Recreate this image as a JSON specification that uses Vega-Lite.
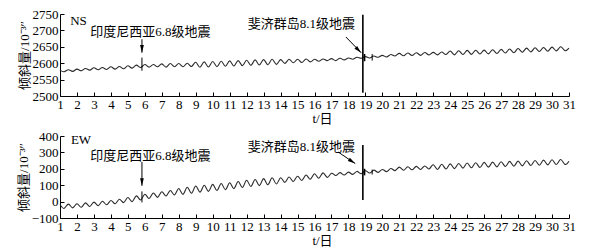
{
"$schema": "https://vega.github.io/schema/vega-lite/v6.json",
"padding": {"left": 17, "top": 8, "right": 5, "bottom": 4},
"spacing": 5,
"config": {
  "view": {"stroke": null},
  "font": "Liberation Serif, Noto Sans CJK SC",
  "axis": {"grid": false, "domainColor": "#000", "tickColor": "#000", "labelColor": "#000", "titleColor": "#000",
    "labelFont": "Liberation Serif", "labelFontSize": 13, "titleFont": "Liberation Serif, Noto Sans CJK SC", "titleFontSize": 13,
    "titleFontWeight": "normal", "tickSize": -4, "labelPadding": 6, "domainWidth": 1, "tickWidth": 1, "format": "d"}
},
"datasets": {
  "ns": [
{"d":1,"v":2579},{"d":1.25,"v":2574},{"d":1.5,"v":2580},{"d":1.75,"v":2575},
{"d":2,"v":2582},{"d":2.25,"v":2577},{"d":2.5,"v":2584},{"d":2.75,"v":2579},
{"d":3,"v":2586},{"d":3.25,"v":2580},{"d":3.5,"v":2587},{"d":3.75,"v":2581},
{"d":4,"v":2589},{"d":4.25,"v":2582},{"d":4.5,"v":2590},{"d":4.75,"v":2583},
{"d":5,"v":2592},{"d":5.25,"v":2585},{"d":5.5,"v":2594},{"d":5.75,"v":2587},
{"d":6,"v":2596},{"d":6.25,"v":2588},{"d":6.5,"v":2596},{"d":6.75,"v":2589},
{"d":7,"v":2598},{"d":7.25,"v":2588},{"d":7.5,"v":2599},{"d":7.75,"v":2589},
{"d":8,"v":2599},{"d":8.25,"v":2589},{"d":8.5,"v":2600},{"d":8.75,"v":2590},
{"d":9,"v":2603},{"d":9.25,"v":2587.5},{"d":9.5,"v":2604},{"d":9.75,"v":2588.5},
{"d":10,"v":2605},{"d":10.25,"v":2589.5},{"d":10.5,"v":2606},{"d":10.75,"v":2590.5},
{"d":11,"v":2607},{"d":11.25,"v":2591.5},{"d":11.5,"v":2608},{"d":11.75,"v":2592.5},
{"d":12,"v":2609},{"d":12.25,"v":2593.5},{"d":12.5,"v":2610},{"d":12.75,"v":2594.5},
{"d":13,"v":2611},{"d":13.25,"v":2595.5},{"d":13.5,"v":2612},{"d":13.75,"v":2596.5},
{"d":14,"v":2611},{"d":14.25,"v":2599.5},{"d":14.5,"v":2612},{"d":14.75,"v":2601.5},
{"d":15,"v":2612},{"d":15.25,"v":2602},{"d":15.5,"v":2613},{"d":15.75,"v":2604},
{"d":16,"v":2612},{"d":16.25,"v":2606},{"d":16.5,"v":2613},{"d":16.75,"v":2608},
{"d":17,"v":2614},{"d":17.25,"v":2608},{"d":17.5,"v":2615},{"d":17.75,"v":2610},
{"d":18,"v":2616},{"d":18.25,"v":2612},{"d":18.5,"v":2618},{"d":18.75,"v":2615},
{"d":19,"v":2620},{"d":19.25,"v":2616},{"d":19.5,"v":2622},{"d":19.75,"v":2618},
{"d":20,"v":2624},{"d":20.25,"v":2619},{"d":20.5,"v":2626.5},{"d":20.75,"v":2622},
{"d":21,"v":2630},{"d":21.25,"v":2622.5},{"d":21.5,"v":2631},{"d":21.75,"v":2623.5},
{"d":22,"v":2632},{"d":22.25,"v":2624},{"d":22.5,"v":2632.5},{"d":22.75,"v":2625},
{"d":23,"v":2633},{"d":23.25,"v":2625.5},{"d":23.5,"v":2634},{"d":23.75,"v":2626.5},
{"d":24,"v":2637},{"d":24.25,"v":2625.5},{"d":24.5,"v":2638},{"d":24.75,"v":2626.5},
{"d":25,"v":2639},{"d":25.25,"v":2627},{"d":25.5,"v":2639.5},{"d":25.75,"v":2628},
{"d":26,"v":2640},{"d":26.25,"v":2628.5},{"d":26.5,"v":2641},{"d":26.75,"v":2629.5},
{"d":27,"v":2642},{"d":27.25,"v":2631},{"d":27.5,"v":2643.5},{"d":27.75,"v":2632},
{"d":28,"v":2645},{"d":28.25,"v":2633.5},{"d":28.5,"v":2646},{"d":28.75,"v":2634.5},
{"d":29,"v":2647},{"d":29.25,"v":2635.5},{"d":29.5,"v":2648},{"d":29.75,"v":2636.5},
{"d":30,"v":2649},{"d":30.25,"v":2637.5},{"d":30.5,"v":2650},{"d":30.75,"v":2638.5},
{"d":31,"v":2646}
  ],
  "ew": [
{"d":1,"v":-18},{"d":1.25,"v":-41},{"d":1.5,"v":-15.5},{"d":1.75,"v":-38},
{"d":2,"v":-13},{"d":2.25,"v":-34.5},{"d":2.5,"v":-8},{"d":2.75,"v":-29.5},
{"d":3,"v":-3},{"d":3.25,"v":-24.5},{"d":3.5,"v":2},{"d":3.75,"v":-19.5},
{"d":4,"v":7},{"d":4.25,"v":-13},{"d":4.5,"v":14.5},{"d":4.75,"v":-6},
{"d":5,"v":25},{"d":5.25,"v":0},{"d":5.5,"v":35},{"d":5.75,"v":10},
{"d":6,"v":45},{"d":6.25,"v":19},{"d":6.5,"v":52.5},{"d":6.75,"v":26},
{"d":7,"v":60},{"d":7.25,"v":34},{"d":7.5,"v":67.5},{"d":7.75,"v":41},
{"d":8,"v":80},{"d":8.25,"v":44},{"d":8.5,"v":87.5},{"d":8.75,"v":51},
{"d":9,"v":95},{"d":9.25,"v":57.5},{"d":9.5,"v":100},{"d":9.75,"v":62.5},
{"d":10,"v":105},{"d":10.25,"v":67.5},{"d":10.5,"v":110},{"d":10.75,"v":72.5},
{"d":11,"v":115},{"d":11.25,"v":79},{"d":11.5,"v":122.5},{"d":11.75,"v":86},
{"d":12,"v":130},{"d":12.25,"v":92.5},{"d":12.5,"v":135},{"d":12.75,"v":97.5},
{"d":13,"v":140},{"d":13.25,"v":102.5},{"d":13.5,"v":145},{"d":13.75,"v":107.5},
{"d":14,"v":145},{"d":14.25,"v":117.5},{"d":14.5,"v":150},{"d":14.75,"v":122.5},
{"d":15,"v":155},{"d":15.25,"v":129},{"d":15.5,"v":162.5},{"d":15.75,"v":136},
{"d":16,"v":170},{"d":16.25,"v":142.5},{"d":16.5,"v":175},{"d":16.75,"v":147.5},
{"d":17,"v":173},{"d":17.25,"v":159},{"d":17.5,"v":176.5},{"d":17.75,"v":162},
{"d":18,"v":180},{"d":18.25,"v":166},{"d":18.5,"v":184},{"d":18.75,"v":170},
{"d":19,"v":188},{"d":19.25,"v":174},{"d":19.5,"v":192},{"d":19.75,"v":178},
{"d":20,"v":196},{"d":20.25,"v":183},{"d":20.5,"v":202},{"d":20.75,"v":189},
{"d":21,"v":210},{"d":21.25,"v":191},{"d":21.5,"v":212.5},{"d":21.75,"v":194},
{"d":22,"v":215},{"d":22.25,"v":196},{"d":22.5,"v":217.5},{"d":22.75,"v":199},
{"d":23,"v":225},{"d":23.25,"v":196},{"d":23.5,"v":227.5},{"d":23.75,"v":199},
{"d":24,"v":230},{"d":24.25,"v":201},{"d":24.5,"v":232.5},{"d":24.75,"v":204},
{"d":25,"v":235},{"d":25.25,"v":206},{"d":25.5,"v":237},{"d":25.75,"v":208},
{"d":26,"v":239},{"d":26.25,"v":210},{"d":26.5,"v":241},{"d":26.75,"v":212},
{"d":27,"v":243},{"d":27.25,"v":214},{"d":27.5,"v":245},{"d":27.75,"v":216},
{"d":28,"v":247},{"d":28.25,"v":218},{"d":28.5,"v":249},{"d":28.75,"v":220},
{"d":29,"v":251},{"d":29.25,"v":222},{"d":29.5,"v":253},{"d":29.75,"v":224},
{"d":30,"v":255},{"d":30.25,"v":226},{"d":30.5,"v":257},{"d":30.75,"v":228},
{"d":31,"v":246}
  ],
  "nsSpikes": [{"d":18.85,"lo":2510,"hi":2748,"w":1.6},{"d":18.95,"lo":2606,"hi":2628,"w":1.6},{"d":19.4,"lo":2608,"hi":2628,"w":1},{"d":5.83,"lo":2577,"hi":2617,"w":1}],
  "ewSpikes": [{"d":18.85,"lo":10,"hi":345,"w":1.6},{"d":18.95,"lo":160,"hi":200,"w":1.6},{"d":19.4,"lo":165,"hi":195,"w":1},{"d":5.83,"lo":-5,"hi":62,"w":1}],
  "nsText": [{"d":2.09,"v":2729,"t":"NS"},{"d":6.33,"v":2695,"t":"印度尼西亚6.8级地震"},{"d":15.23,"v":2720,"t":"斐济群岛8.1级地震"}],
  "ewText": [{"d":2.24,"v":375,"t":"EW"},{"d":6.33,"v":277,"t":"印度尼西亚6.8级地震"},{"d":15.23,"v":334,"t":"斐济群岛8.1级地震"}],
  "nsArrows": [{"d":5.83,"v":2673,"d2":5.83,"v2":2632,"a":0},{"d":17.85,"v":2680,"d2":18.75,"v2":2632,"a":315}],
  "ewArrows": [{"d":5.83,"v":242,"d2":5.83,"v2":96,"a":0},{"d":17.4,"v":302,"d2":18.4,"v2":232,"a":303}]
},
"vconcat": [
  {
    "width": 509, "height": 82,
    "encoding": {
      "x": {"field": "d", "type": "quantitative", "scale": {"domain": [1, 31], "nice": false},
        "axis": {"values": [1,2,3,4,5,6,7,8,9,10,11,12,13,14,15,16,17,18,19,20,21,22,23,24,25,26,27,28,29,30,31], "labelOverlap": false, "labelFlush": false, "title": "t/日", "titlePadding": 1, "titleX": 262}},
      "y": {"field": "v", "type": "quantitative", "scale": {"domain": [2500, 2750], "nice": false, "zero": false},
        "axis": {"values": [2500,2550,2600,2650,2700,2750], "title": "倾斜量/10⁻³″", "titlePadding": 1}}
    },
    "layer": [
      {"data": {"name": "ns"}, "mark": {"type": "line", "interpolate": "natural", "color": "#2a2a2a", "strokeWidth": 1.1}},
      {"data": {"name": "nsSpikes"}, "mark": {"type": "rule", "color": "#000"}, "encoding": {"y": {"field": "lo", "type": "quantitative"}, "y2": {"field": "hi"}, "strokeWidth": {"field": "w", "type": "quantitative", "scale": null}}},
      {"data": {"name": "nsText"}, "mark": {"type": "text", "fontSize": 13, "color": "#000", "align": "center", "baseline": "middle"}, "encoding": {"text": {"field": "t"}}},
      {"data": {"name": "nsArrows"}, "mark": {"type": "rule", "color": "#000", "strokeWidth": 1}, "encoding": {"x2": {"field": "d2"}, "y2": {"field": "v2"}}},
      {"data": {"name": "nsArrows"}, "mark": {"type": "point", "filled": true, "color": "#000", "opacity": 1, "size": 40, "shape": "M-0.6,-2.4L0,0L0.6,-2.4Z"}, "encoding": {"x": {"field": "d2", "type": "quantitative"}, "y": {"field": "v2", "type": "quantitative"}, "angle": {"field": "a", "type": "quantitative", "scale": null}}}
    ]
  },
  {
    "width": 509, "height": 82,
    "encoding": {
      "x": {"field": "d", "type": "quantitative", "scale": {"domain": [1, 31], "nice": false},
        "axis": {"values": [1,2,3,4,5,6,7,8,9,10,11,12,13,14,15,16,17,18,19,20,21,22,23,24,25,26,27,28,29,30,31], "labelOverlap": false, "labelFlush": false, "title": "t/日", "titlePadding": 1, "titleX": 262}},
      "y": {"field": "v", "type": "quantitative", "scale": {"domain": [-100, 400], "nice": false, "zero": false},
        "axis": {"values": [-100,0,100,200,300,400], "title": "倾斜量/10⁻³″", "titlePadding": 1}}
    },
    "layer": [
      {"data": {"name": "ew"}, "mark": {"type": "line", "interpolate": "natural", "color": "#2a2a2a", "strokeWidth": 1.1}},
      {"data": {"name": "ewSpikes"}, "mark": {"type": "rule", "color": "#000"}, "encoding": {"y": {"field": "lo", "type": "quantitative"}, "y2": {"field": "hi"}, "strokeWidth": {"field": "w", "type": "quantitative", "scale": null}}},
      {"data": {"name": "ewText"}, "mark": {"type": "text", "fontSize": 13, "color": "#000", "align": "center", "baseline": "middle"}, "encoding": {"text": {"field": "t"}}},
      {"data": {"name": "ewArrows"}, "mark": {"type": "rule", "color": "#000", "strokeWidth": 1}, "encoding": {"x2": {"field": "d2"}, "y2": {"field": "v2"}}},
      {"data": {"name": "ewArrows"}, "mark": {"type": "point", "filled": true, "color": "#000", "opacity": 1, "size": 40, "shape": "M-0.6,-2.4L0,0L0.6,-2.4Z"}, "encoding": {"x": {"field": "d2", "type": "quantitative"}, "y": {"field": "v2", "type": "quantitative"}, "angle": {"field": "a", "type": "quantitative", "scale": null}}}
    ]
  }
]
}
